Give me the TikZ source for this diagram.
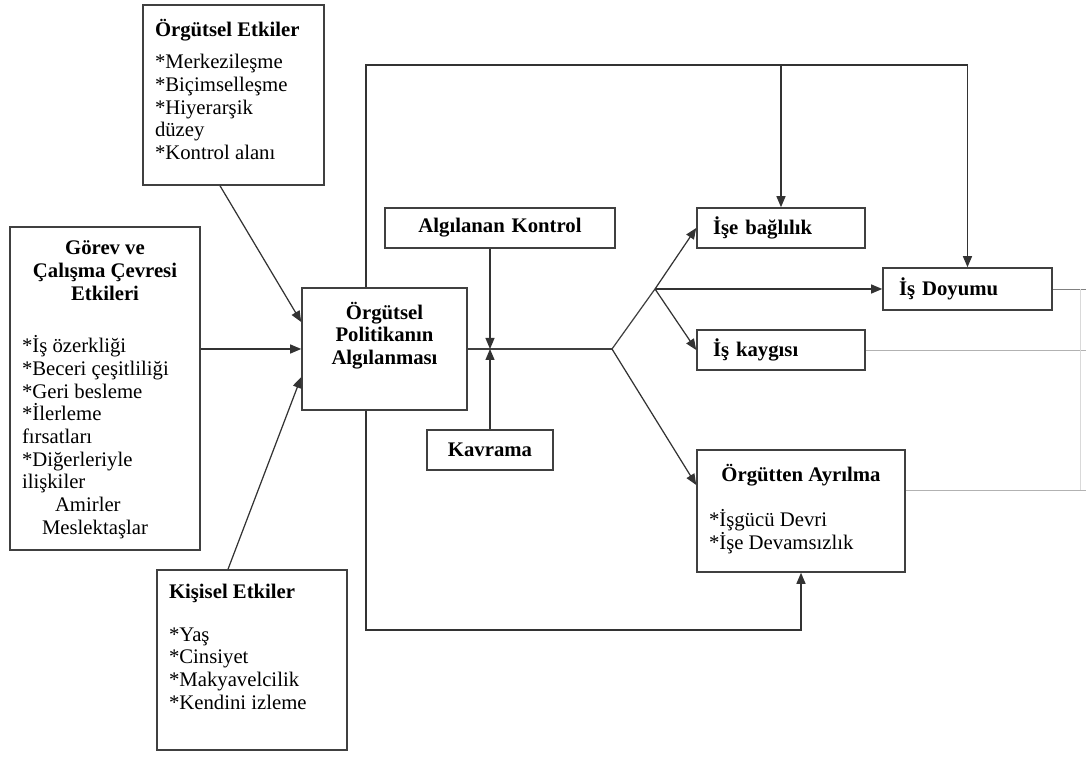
\documentclass[tikz,border=0pt]{standalone}
\usepackage{fontspec}
\setmainfont{Liberation Serif}
\usetikzlibrary{arrows.meta,positioning}

\newcommand{\boxtext}[3]{\parbox[c][#1][t]{#2}{\raggedright #3}}

\begin{document}
\begin{tikzpicture}[
  x=0.02cm, y=-0.02cm,
  font=\fontsize{11.8}{12.9}\selectfont,
  panel/.style={draw=black!75, line width=0.9pt, inner xsep=0.24cm, inner ysep=0.28cm},
  tag/.style={draw=black!75, line width=0.9pt, inner xsep=0.32cm, inner ysep=0pt, minimum height=0.8cm, font=\fontsize{11.8}{12.9}\selectfont\bfseries},
  arrow/.style={-{Triangle[length=2.2mm,width=1.8mm]}, draw=black!80, line width=0.7pt},
  link/.style={draw=black!75, line width=0.7pt},
  faint/.style={draw=black!30, line width=0.5pt}
]
\useasboundingbox (0,0) rectangle (1086,759);

% influences on the left
\node[panel] (oe) at (233.5,95) {\boxtext{3.04cm}{3.14cm}{%
  \textbf{Örgütsel Etkiler}\\[0.2cm]
  {*}Merkezileşme\\{*}Biçimselleşme\\{*}Hiyerarşik\\düzey\\{*}Kontrol alanı}};
\node[panel] (gorev) at (105,388.5) {\boxtext{5.9cm}{3.32cm}{%
  {\centering\bfseries Görev ve\\Çalışma Çevresi\\Etkileri\par}\vspace{0.6cm}
  {*}İş özerkliği\\{*}Beceri çeşitliliği\\{*}Geri besleme\\{*}İlerleme\\fırsatları\\
  {*}Diğerleriyle\\ilişkiler\\\hspace*{0.66cm}Amirler\\\hspace*{0.4cm}Meslektaşlar}};
\node[panel] (kisisel) at (252,660) {\boxtext{3.04cm}{3.32cm}{%
  \textbf{Kişisel Etkiler}\\[0.4cm]
  {*}Yaş\\{*}Cinsiyet\\{*}Makyavelcilik\\{*}Kendini izleme}};

% perception and moderators
\node[panel] (opa) at (384.5,349) {\boxtext{1.88cm}{2.82cm}{%
  {\centering\bfseries Örgütsel\\Politikanın\\Algılanması\par}}};
\node[tag, text width=3.96cm, align=center] (ak) at (500,228) {Algılanan Kontrol};
\node[tag, text width=1.88cm, align=center] (kav) at (490,450) {Kavrama};

% outcomes
\node[tag, text width=2.72cm, align=left] (isb) at (781,228) {İşe bağlılık};
\node[tag, text width=2.74cm, align=left, minimum height=0.84cm] (isd) at (967.5,289) {İş Doyumu};
\node[tag, text width=2.72cm, align=left] (isk) at (781,350) {İş kaygısı};
\node[panel] (oa) at (801,511) {\boxtext{1.88cm}{3.68cm}{%
  {\centering\bfseries Örgütten Ayrılma\par}\vspace{0.45cm}
  {*}İşgücü Devri\\{*}İşe Devamsızlık}};

\coordinate (mid) at (490,349);
\coordinate (split) at (612,349);
\coordinate (fork) at (655,289);
\coordinate (loopT) at (366,65);
\coordinate (loopB) at (366,630);
\coordinate (redge) at (1086,0);
\coordinate (rtop) at (1080,289);
\coordinate (rbot) at (1080,490);

\draw[arrow] ([xshift=-0.27cm]oe.south) -- ([yshift=0.54cm]opa.west);
\draw[arrow] (opa.west -| gorev.east) -- (opa.west);
\draw[arrow] ([xshift=-0.48cm]kisisel.north) -- ([yshift=-0.56cm]opa.west);

\draw[link] (opa.east) -- (split);
\draw[arrow] (ak.south -| mid) -- (mid);
\draw[arrow] (kav.north) -- (mid);
\draw[link] (split) -- (fork);
\draw[arrow] (fork) -- (isb.west);
\draw[arrow] (fork) -- (isd.west);
\draw[arrow] (fork) -- (isk.west);
\draw[arrow] (split) -- ([yshift=0.52cm]oa.west);

% feedback loops
\draw[arrow] (opa.north -| loopT) -- (loopT) -| (isd.north);
\draw[arrow] (loopT -| isb.north) -- (isb.north);
\draw[arrow] (opa.south -| loopB) -- (loopB) -| (oa.south);

% lines running off the right edge
\draw[link, draw=black!50, line width=0.5pt] (isd.east) -- (isd.east -| redge);
\draw[faint] (isk.east) -- (isk.east -| redge);
\draw[faint] ([yshift=0.42cm]oa.east) -- ([yshift=0.42cm]oa.east -| redge);
\draw[faint, draw=black!15] (rtop) -- (rbot);
\end{tikzpicture}
\end{document}
